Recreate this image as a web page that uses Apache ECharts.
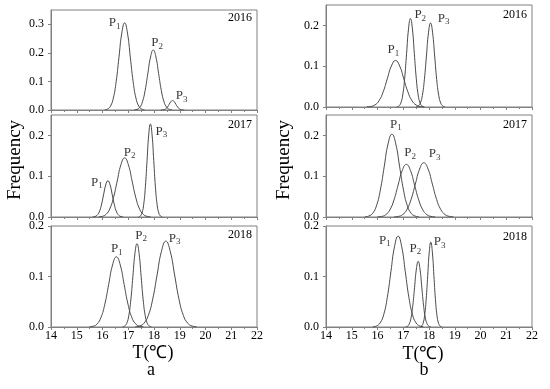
<!DOCTYPE html>
<html><head><meta charset="utf-8">
<script src="https://cdn.jsdelivr.net/npm/echarts@6/dist/echarts.min.js"></script>
<style>html,body{margin:0;padding:0;background:#fff}#c{width:550px;height:389px}</style>
</head><body><div id="c"></div>
<script>
// ---- data ----
const years = ['2016', '2017', '2018'];
const peakNames = ['1', '2', '3'];
const xTicks = [14, 15, 16, 17, 18, 19, 20, 21, 22];
const yTicksA = [[0, 0.1, 0.2, 0.3], [0, 0.1, 0.2], [0, 0.1, 0.2]];
const yTicksB = [[0, 0.1, 0.2], [0, 0.1, 0.2], [0, 0.1, 0.2]];
const yMaxA = [0.35, 0.25, 0.2];
const yMaxB = [0.25, 0.25, 0.2];

// panel a, 2016
const a16P1 = [[16.09,0.0007],[16.20,0.0034],[16.31,0.0134],[16.42,0.0413],[16.53,0.0990],[16.64,0.1850],[16.75,0.2692],[16.86,0.305],[16.97,0.2692],[17.08,0.1850],[17.19,0.0990],[17.30,0.0413],[17.41,0.0134],[17.52,0.0034],[17.63,0.0007]];
const a16P2 = [[17.235,0.0005],[17.34,0.0023],[17.445,0.0092],[17.55,0.0284],[17.655,0.0682],[17.76,0.1274],[17.865,0.1853],[17.97,0.21],[18.075,0.1853],[18.18,0.1274],[18.285,0.0682],[18.39,0.0284],[18.495,0.0092],[18.60,0.0023],[18.705,0.0005]];
const a16P3 = [[18.265,0.0001],[18.33,0.0004],[18.395,0.0014],[18.46,0.0045],[18.525,0.0107],[18.59,0.0200],[18.655,0.0291],[18.72,0.033],[18.785,0.0291],[18.85,0.0200],[18.915,0.0107],[18.98,0.0045],[19.045,0.0014],[19.11,0.0004],[19.175,0.0001]];
// panel a, 2017
const a17P1 = [[15.615,0.0002],[15.70,0.0010],[15.785,0.0039],[15.87,0.0120],[15.955,0.0289],[16.04,0.0540],[16.125,0.0785],[16.21,0.089],[16.295,0.0785],[16.38,0.0540],[16.465,0.0289],[16.55,0.0120],[16.635,0.0039],[16.72,0.0010],[16.805,0.0002]];
const a17P2 = [[15.845,0.0003],[15.99,0.0016],[16.135,0.0064],[16.28,0.0196],[16.425,0.0471],[16.57,0.0879],[16.715,0.1280],[16.86,0.145],[17.005,0.1280],[17.15,0.0879],[17.295,0.0471],[17.44,0.0196],[17.585,0.0064],[17.73,0.0016],[17.875,0.0003]];
const a17P3 = [[17.405,0.0005],[17.47,0.0025],[17.535,0.0100],[17.60,0.0308],[17.665,0.0740],[17.73,0.1383],[17.795,0.2012],[17.86,0.228],[17.925,0.2012],[17.99,0.1383],[18.055,0.0740],[18.12,0.0308],[18.185,0.0100],[18.25,0.0025],[18.315,0.0005]];
// panel a, 2018
const a18P1 = [[15.49,0.0003],[15.64,0.0015],[15.79,0.0061],[15.94,0.0188],[16.09,0.0451],[16.24,0.0843],[16.39,0.1227],[16.54,0.139],[16.69,0.1227],[16.84,0.0843],[16.99,0.0451],[17.14,0.0188],[17.29,0.0061],[17.44,0.0015],[17.59,0.0003]];
const a18P2 = [[16.78,0.0004],[16.86,0.0018],[16.94,0.0072],[17.02,0.0223],[17.10,0.0536],[17.18,0.1001],[17.26,0.1456],[17.34,0.165],[17.42,0.1456],[17.50,0.1001],[17.58,0.0536],[17.66,0.0223],[17.74,0.0072],[17.82,0.0018],[17.90,0.0004]];
const a18P3 = [[17.27,0.0004],[17.44,0.0019],[17.61,0.0075],[17.78,0.0230],[17.95,0.0552],[18.12,0.1031],[18.29,0.1500],[18.46,0.170],[18.63,0.1500],[18.80,0.1031],[18.97,0.0552],[19.14,0.0230],[19.31,0.0075],[19.48,0.0019],[19.65,0.0004]];
// panel b, 2016
const b16P1 = [[15.58,0.0003],[15.74,0.0013],[15.90,0.0050],[16.06,0.0154],[16.22,0.0370],[16.38,0.0691],[16.54,0.1006],[16.70,0.114],[16.86,0.1006],[17.02,0.0691],[17.18,0.0370],[17.34,0.0154],[17.50,0.0050],[17.66,0.0013],[17.82,0.0003]];
const b16P2 = [[16.755,0.0005],[16.83,0.0024],[16.905,0.0095],[16.98,0.0294],[17.055,0.0705],[17.13,0.1316],[17.205,0.1915],[17.28,0.217],[17.355,0.1915],[17.43,0.1316],[17.505,0.0705],[17.58,0.0294],[17.655,0.0095],[17.73,0.0024],[17.805,0.0005]];
const b16P3 = [[17.50,0.0005],[17.58,0.0023],[17.66,0.0090],[17.74,0.0279],[17.82,0.0669],[17.90,0.1249],[17.98,0.1818],[18.06,0.206],[18.14,0.1818],[18.22,0.1249],[18.30,0.0669],[18.38,0.0279],[18.46,0.0090],[18.54,0.0023],[18.62,0.0005]];
// panel b, 2017
const b17P1 = [[15.51,0.0004],[15.66,0.0023],[15.81,0.0089],[15.96,0.0275],[16.11,0.0659],[16.26,0.1231],[16.41,0.1791],[16.56,0.203],[16.71,0.1791],[16.86,0.1231],[17.01,0.0659],[17.16,0.0275],[17.31,0.0089],[17.46,0.0023],[17.61,0.0004]];
const b17P2 = [[16.00,0.0003],[16.16,0.0014],[16.32,0.0057],[16.48,0.0175],[16.64,0.0419],[16.80,0.0782],[16.96,0.1138],[17.12,0.129],[17.28,0.1138],[17.44,0.0782],[17.60,0.0419],[17.76,0.0175],[17.92,0.0057],[18.08,0.0014],[18.24,0.0003]];
const b17P3 = [[16.645,0.0003],[16.81,0.0015],[16.975,0.0058],[17.14,0.0180],[17.305,0.0432],[17.47,0.0807],[17.635,0.1174],[17.80,0.133],[17.965,0.1174],[18.13,0.0807],[18.295,0.0432],[18.46,0.0180],[18.625,0.0058],[18.79,0.0015],[18.955,0.0003]];
// panel b, 2018
const b18P1 = [[15.82,0.0004],[15.96,0.0020],[16.10,0.0079],[16.24,0.0244],[16.38,0.0584],[16.52,0.1092],[16.66,0.1589],[16.80,0.18],[16.94,0.1589],[17.08,0.1092],[17.22,0.0584],[17.36,0.0244],[17.50,0.0079],[17.64,0.0020],[17.78,0.0004]];
const b18P2 = [[17.09,0.0003],[17.16,0.0014],[17.23,0.0057],[17.30,0.0176],[17.37,0.0422],[17.44,0.0788],[17.51,0.1147],[17.58,0.130],[17.65,0.1147],[17.72,0.0788],[17.79,0.0422],[17.86,0.0176],[17.93,0.0057],[18.00,0.0014],[18.07,0.0003]];
const b18P3 = [[17.65,0.0004],[17.71,0.0019],[17.77,0.0074],[17.83,0.0227],[17.89,0.0546],[17.95,0.1019],[18.01,0.1483],[18.07,0.168],[18.13,0.1483],[18.19,0.1019],[18.25,0.0546],[18.31,0.0227],[18.37,0.0074],[18.43,0.0019],[18.49,0.0004]];

// peak label anchors (data coords)
const a16Lab = [[16.47,0.305],[18.12,0.235],[19.07,0.049]];
const a17Lab = [[15.78,0.085],[17.05,0.159],[18.29,0.210]];
const a18Lab = [[16.56,0.155],[17.50,0.182],[18.80,0.176]];
const b16Lab = [[16.62,0.140],[17.66,0.226],[18.57,0.217]];
const b17Lab = [[16.71,0.227],[17.27,0.157],[18.22,0.155]];
const b18Lab = [[16.29,0.172],[17.47,0.156],[18.41,0.169]];

// ---- layout ----
const FONT = "'Liberation Serif', 'Times New Roman', Times, serif";
const frameColor = '#808080';
const curveColor = '#4a4a4a';
const grids = [
  {left: 51, top: 10, width: 206, height: 100},
  {left: 51, top: 115, width: 206, height: 102},
  {left: 51, top: 226, width: 206, height: 101},
  {left: 326, top: 5, width: 206, height: 102},
  {left: 326, top: 115, width: 206, height: 102},
  {left: 326, top: 226, width: 206, height: 101}
];
const panelCurves = [
  [a16P1, a16P2, a16P3], [a17P1, a17P2, a17P3], [a18P1, a18P2, a18P3],
  [b16P1, b16P2, b16P3], [b17P1, b17P2, b17P3], [b18P1, b18P2, b18P3]
];
const panelLabels = [a16Lab, a17Lab, a18Lab, b16Lab, b17Lab, b18Lab];
const panelMax = yMaxA.concat(yMaxB);
const panelYTicks = yTicksA.concat(yTicksB);

const xAxes = [], yAxes = [], series = [];
grids.forEach((g, i) => {
  Object.assign(g, {show: true, borderColor: frameColor, borderWidth: 1, containLabel: false});
  const bottom = (i % 3) === 2;
  xAxes.push({
    type: 'value', gridIndex: i, min: 14, max: 22, interval: 1,
    axisLine: {show: true, onZero: false, lineStyle: {color: frameColor, width: 1}},
    axisTick: {show: true, inside: false, length: 3, lineStyle: {color: frameColor}},
    minorTick: {show: true, splitNumber: 2, length: 2, lineStyle: {color: frameColor}},
    axisLabel: {show: bottom, margin: 3, color: '#000', fontFamily: FONT, fontSize: 12,
      customValues: xTicks},
    splitLine: {show: false}
  });
  yAxes.push({
    type: 'value', gridIndex: i, min: 0, max: panelMax[i],
    axisLine: {show: true, lineStyle: {color: frameColor, width: 1}},
    axisTick: {show: true, inside: false, length: 3, lineStyle: {color: frameColor},
      customValues: panelYTicks[i]},
    axisLabel: {show: true, margin: 7, color: '#000', fontFamily: FONT, fontSize: 12,
      customValues: panelYTicks[i], formatter: v => v.toFixed(1)},
    splitLine: {show: false}
  });
  panelCurves[i].forEach((c, k) => {
    series.push({
      type: 'line', xAxisIndex: i, yAxisIndex: i, data: c, smooth: 0.5,
      showSymbol: false, symbol: 'none', silent: true, clip: true,
      lineStyle: {color: curveColor, width: 1}
    });
  });
  series.push({
    type: 'scatter', xAxisIndex: i, yAxisIndex: i, symbolSize: 0, silent: true,
    data: panelLabels[i].map((p, k) => ({value: p, name: peakNames[k]})),
    label: {
      show: true, position: 'inside', color: '#000',
      formatter: p => '{p|P}{s|' + p.name + '}',
      rich: {
        p: {fontFamily: FONT, fontSize: 13, color: '#000'},
        s: {fontFamily: FONT, fontSize: 9, color: '#000', padding: [7, 0, 0, 0]}
      }
    }
  });
});

const yearPos = [[252, 18], [252, 125], [252, 235], [527, 15], [527, 125], [527, 237]];
const graphic = [];
yearPos.forEach((p, i) => {
  graphic.push({type: 'text', x: p[0], y: p[1], silent: true,
    style: {text: years[i % 3], fill: '#000', font: '12px ' + FONT, align: 'right', verticalAlign: 'middle'}});
});
[[15, 160], [284, 160]].forEach(p => {
  graphic.push({type: 'text', x: p[0], y: p[1], rotation: Math.PI / 2, silent: true,
    style: {text: 'Frequency', fill: '#000', font: '19px ' + FONT, align: 'center', verticalAlign: 'middle'}});
});
[[153, 353, 'T(℃)'], [423, 354, 'T(℃)'], [151, 370, 'a'], [424, 370, 'b']].forEach(p => {
  graphic.push({type: 'text', x: p[0], y: p[1], silent: true,
    style: {text: p[2], fill: '#000', font: '18px ' + FONT, align: 'center', verticalAlign: 'middle'}});
});

const chart = echarts.init(document.getElementById('c'), null, {renderer: 'canvas'});
chart.setOption({
  animation: false, backgroundColor: '#fff',
  grid: grids, xAxis: xAxes, yAxis: yAxes, series: series, graphic: graphic
});
</script></body></html>
